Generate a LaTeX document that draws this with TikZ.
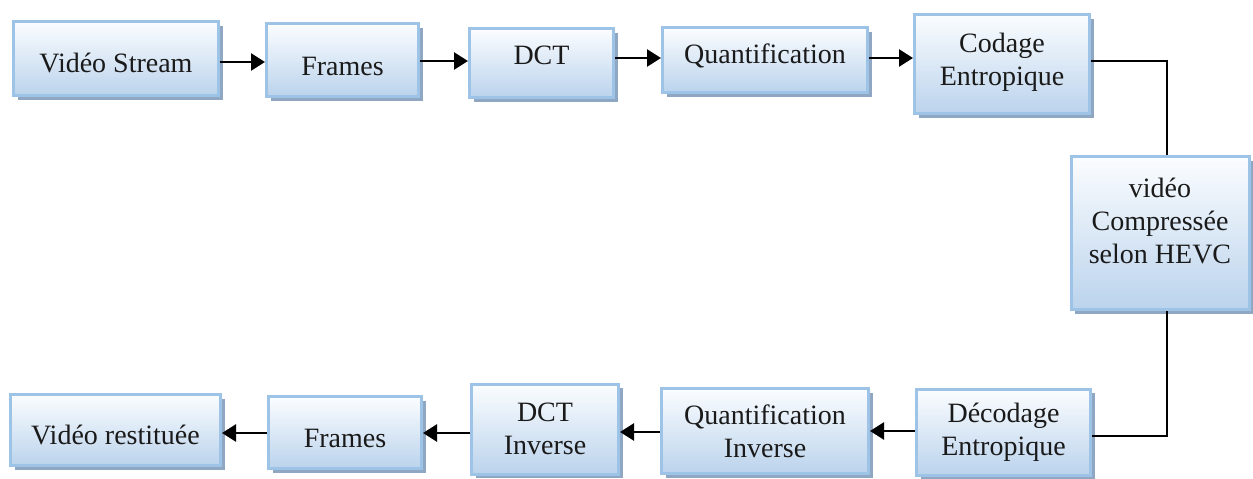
\documentclass[tikz,border=0pt]{standalone}
\usepackage{fontspec}
\setmainfont{Liberation Serif}
\newfontfamily\blkfont{Liberation Serif}
\usetikzlibrary{arrows.meta,shadows}

\definecolor{blkborder}{HTML}{9DC3E6}
\definecolor{blktop}{HTML}{FBFDFF}
\definecolor{blkbottom}{HTML}{BBD3EC}
\definecolor{blkshadow}{HTML}{8FA7C2}
\definecolor{inkc}{HTML}{1A1A1A}

\tikzset{
  blk/.style={rectangle, draw=blkborder, line width=3pt, inner sep=0pt,
    top color=blktop, bottom color=blkbottom,
    general shadow={fill=blkshadow, shadow xshift=4pt, shadow yshift=-4pt}},
  txt/.style={align=center, text=inkc, inner sep=0pt,
    font=\blkfont\fontsize{28}{33}\selectfont},
  arr/.style={line width=2.6pt, -{Triangle[length=14pt,width=17pt]}},
  link/.style={line width=1.8pt}
}

\begin{document}
\begin{tikzpicture}[x=1pt,y=-1pt]
\useasboundingbox (0,0) rectangle (1253,479);

% encoder chain (top row)
\node[blk, minimum width=205pt, minimum height=74pt,
  label={[txt,yshift=-4pt]center:Vidéo Stream}] (vs) at (116,58.5) {};
\node[blk, minimum width=152pt, minimum height=73pt,
  label={[txt,yshift=-6pt]center:Frames}] (fr1) at (342.5,60) {};
\node[blk, minimum width=144pt, minimum height=69pt,
  label={[txt,yshift=8pt]center:DCT}] (dct) at (541.5,63) {};
\node[blk, minimum width=205pt, minimum height=65pt,
  label={[txt,yshift=4pt]center:Quantification}] (q) at (765,60) {};
\node[blk, minimum width=175pt, minimum height=99pt,
  label={[txt,yshift=2pt]center:Codage\\Entropique}] (ce) at (1002,64) {};

% compressed stream
\node[blk, minimum width=178pt, minimum height=153pt,
  label={[txt,yshift=12pt]center:vidéo\\Compressée\\selon HEVC}] (vc) at (1160,233) {};

% decoder chain (bottom row)
\node[blk, minimum width=174pt, minimum height=86pt,
  label={[txt]center:Décodage\\Entropique}] (de) at (1003.5,432) {};
\node[blk, minimum width=207pt, minimum height=85pt,
  label={[txt]center:Quantification\\Inverse}] (qi) at (765,431) {};
\node[blk, minimum width=147pt, minimum height=90pt,
  label={[txt]center:DCT\\Inverse}] (dcti) at (545,429) {};
\node[blk, minimum width=153pt, minimum height=72pt,
  label={[txt,yshift=-6pt]center:Frames}] (fr2) at (345,432.5) {};
\node[blk, minimum width=210pt, minimum height=71pt,
  label={[txt,yshift=-5pt]center:Vidéo restituée}] (vr) at (115.5,430) {};

% forward arrows
\draw[arr] (vs.east |- 0,62) -- (fr1.west |- 0,62);
\draw[arr] (fr1.east |- 0,61) -- (dct.west |- 0,61);
\draw[arr] (dct.east |- 0,58) -- (q.west |- 0,58);
\draw[arr] (q.east |- 0,58) -- (ce.west |- 0,58);

% links through the compressed stream
\draw[link] (ce.east |- 0,61) -| ([xshift=7pt]vc.north);
\draw[link] ([xshift=7pt]vc.south) |- (de.east |- 0,436);

% backward arrows
\draw[arr] (de.west |- 0,431) -- (qi.east |- 0,431);
\draw[arr] (qi.west |- 0,432) -- (dcti.east |- 0,432);
\draw[arr] (dcti.west |- 0,433) -- (fr2.east |- 0,433);
\draw[arr] (fr2.west |- 0,433) -- (vr.east |- 0,433);
\end{tikzpicture}
\end{document}
